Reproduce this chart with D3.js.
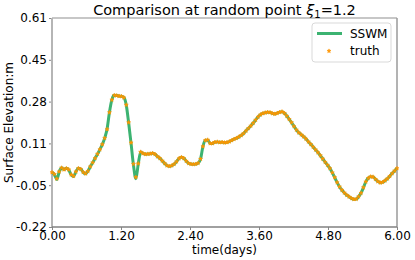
<!DOCTYPE html>
<html>
<head>
<meta charset="utf-8">
<script src="https://cdn.jsdelivr.net/npm/d3@7"></script>
<style>
  body { margin: 0; background: #fff; }
  svg { font-family: "DejaVu Sans", sans-serif; }
</style>
</head>
<body>
<div id="chart"></div>
<script>
// time axis in days (one sample per hour)
var days = d3.range(0, 145).map(function (k) { return k / 24; });

// truth (orange stars)
var truth = [
  -0.003, -0.010, -0.028, 0.000, 0.015, 0.008, 0.013, 0.008, -0.012, -0.018,
  0.000, 0.013, 0.010, -0.002, -0.008, 0.002, 0.020, 0.036, 0.053, 0.070,
  0.088, 0.108, 0.133, 0.168, 0.235, 0.285, 0.303, 0.302, 0.300, 0.299,
  0.294, 0.265, 0.195, 0.115, 0.030, -0.022, 0.032, 0.078, 0.072, 0.069,
  0.070, 0.071, 0.073, 0.069, 0.060, 0.053, 0.043, 0.033, 0.024, 0.021,
  0.024, 0.030, 0.040, 0.052, 0.057, 0.053, 0.042, 0.033, 0.030, 0.029,
  0.030, 0.034, 0.050, 0.100, 0.124, 0.126, 0.112, 0.112, 0.117, 0.118,
  0.116, 0.117, 0.115, 0.116, 0.119, 0.124, 0.129, 0.133, 0.138, 0.144,
  0.152, 0.162, 0.172, 0.182, 0.193, 0.205, 0.217, 0.226, 0.231, 0.234,
  0.236, 0.235, 0.231, 0.229, 0.232, 0.236, 0.238, 0.232, 0.221, 0.208,
  0.195, 0.180, 0.166, 0.155, 0.147, 0.139, 0.130, 0.119, 0.109, 0.098,
  0.087, 0.076, 0.064, 0.051, 0.038, 0.026, 0.013, -0.004, -0.023, -0.043,
  -0.060, -0.073, -0.084, -0.093, -0.100, -0.106, -0.110, -0.109, -0.099, -0.085,
  -0.063, -0.040, -0.026, -0.020, -0.021, -0.030, -0.039, -0.044, -0.042, -0.036,
  -0.028, -0.018, -0.007, 0.003, 0.013
];

// SSWM model (green line)
var sswm = [
  -0.003, -0.012, -0.031, -0.001, 0.015, 0.008, 0.013, 0.007, -0.013, -0.019,
  0.000, 0.013, 0.010, -0.003, -0.009, 0.002, 0.020, 0.036, 0.053, 0.070,
  0.088, 0.108, 0.133, 0.170, 0.237, 0.286, 0.303, 0.302, 0.300, 0.299,
  0.294, 0.264, 0.193, 0.112, 0.026, -0.028, 0.030, 0.078, 0.072, 0.069,
  0.070, 0.071, 0.073, 0.069, 0.060, 0.053, 0.043, 0.033, 0.024, 0.021,
  0.024, 0.030, 0.040, 0.052, 0.057, 0.053, 0.042, 0.033, 0.030, 0.029,
  0.030, 0.034, 0.050, 0.100, 0.124, 0.126, 0.112, 0.112, 0.117, 0.118,
  0.116, 0.117, 0.115, 0.116, 0.119, 0.124, 0.129, 0.133, 0.138, 0.144,
  0.152, 0.162, 0.172, 0.182, 0.193, 0.205, 0.217, 0.226, 0.231, 0.234,
  0.236, 0.235, 0.231, 0.229, 0.232, 0.236, 0.238, 0.232, 0.221, 0.208,
  0.195, 0.180, 0.166, 0.155, 0.147, 0.139, 0.130, 0.119, 0.109, 0.098,
  0.087, 0.076, 0.064, 0.051, 0.038, 0.026, 0.013, -0.004, -0.023, -0.043,
  -0.060, -0.073, -0.084, -0.093, -0.100, -0.106, -0.110, -0.109, -0.099, -0.085,
  -0.063, -0.040, -0.026, -0.020, -0.021, -0.030, -0.039, -0.044, -0.042, -0.036,
  -0.028, -0.018, -0.007, 0.003, 0.013
];

var xTicks = [0, 1.2, 2.4, 3.6, 4.8, 6.0];
var yTicks = [-0.22, -0.054, 0.112, 0.278, 0.444, 0.61];
var yTickLabels = ["-0.22", "-0.05", "0.11", "0.28", "0.45", "0.61"];

var margin = { top: 18, right: 18, bottom: 33, left: 52 },
    width = 415 - margin.left - margin.right,
    height = 260 - margin.top - margin.bottom;

var svg = d3.select("#chart")
    .append("svg")
    .attr("width", 415)
    .attr("height", 260);

var g = svg.append("g")
    .attr("transform", "translate(" + margin.left + "," + margin.top + ")");

var x = d3.scaleLinear().domain([0, 6]).range([0, width]);
var y = d3.scaleLinear().domain([-0.22, 0.61]).range([height, 0]);

// axes
var xAxis = g.append("g")
    .attr("transform", "translate(0," + height + ")")
    .call(d3.axisBottom(x).tickValues(xTicks).tickFormat(d3.format(".2f")).tickSize(3).tickPadding(1));
var yAxis = g.append("g")
    .call(d3.axisLeft(y).tickValues(yTicks).tickFormat(function (d, i) { return yTickLabels[i]; }).tickSize(3).tickPadding(2));

[xAxis, yAxis].forEach(function (a) {
    a.select(".domain").remove();
    a.selectAll(".tick line").attr("stroke", "#888");
    a.selectAll("text").attr("font-size", 12).attr("fill", "#000").attr("font-family", "DejaVu Sans");
});

// spines
g.append("line").attr("x1", 0).attr("x2", 0).attr("y1", 0).attr("y2", height)
    .attr("stroke", "#b5b5b5").attr("stroke-width", 2);
g.append("line").attr("x1", 0).attr("x2", width).attr("y1", 0).attr("y2", 0)
    .attr("stroke", "#b5b5b5").attr("stroke-width", 1.5);
g.append("line").attr("x1", width).attr("x2", width).attr("y1", 0).attr("y2", height)
    .attr("stroke", "#9a9a9a").attr("stroke-width", 1.5);
g.append("line").attr("x1", 0).attr("x2", width).attr("y1", height).attr("y2", height)
    .attr("stroke", "#808080").attr("stroke-width", 1.5);

// SSWM line
var line = d3.line()
    .x(function (d, i) { return x(days[i]); })
    .y(function (d) { return y(d); })
    .curve(d3.curveMonotoneX);

g.append("path")
    .datum(sswm)
    .attr("fill", "none")
    .attr("stroke", "#3cb371")
    .attr("stroke-width", 3)
    .attr("d", line);

// truth stars
var star = d3.symbol().type(d3.symbolStar).size(5);
g.append("g")
    .selectAll("path")
    .data(truth)
    .enter()
    .append("path")
    .attr("d", star)
    .attr("transform", function (d, i) { return "translate(" + x(days[i]) + "," + y(d) + ")"; })
    .attr("fill", "#ff9500")
    .attr("stroke", "#ff9500")
    .attr("stroke-width", 0.6);

// title
var title = svg.append("text")
    .attr("x", margin.left + width / 2)
    .attr("y", 15)
    .attr("text-anchor", "middle")
    .attr("font-size", 14.5);
title.append("tspan").text("Comparison at random point ");
title.append("tspan").attr("font-style", "italic").text("ξ");
title.append("tspan").attr("font-size", 10).attr("dy", 3).text("1");
title.append("tspan").attr("dy", -3).text("=1.2");

// axis labels
svg.append("text")
    .attr("x", margin.left + width / 2)
    .attr("y", 254)
    .attr("text-anchor", "middle")
    .attr("font-size", 12)
    .text("time(days)");

svg.append("text")
    .attr("transform", "translate(13," + (margin.top + height / 2) + ") rotate(-90)")
    .attr("text-anchor", "middle")
    .attr("font-size", 12)
    .text("Surface Elevation:m");

// legend
var lg = svg.append("g").attr("transform", "translate(312,23)");
lg.append("rect")
    .attr("width", 79).attr("height", 39).attr("rx", 3)
    .attr("fill", "#fff").attr("fill-opacity", 0.8)
    .attr("stroke", "#d9d9d9");
lg.append("line").attr("x1", 5).attr("x2", 30).attr("y1", 10.5).attr("y2", 10.5)
    .attr("stroke", "#3cb371").attr("stroke-width", 3);
lg.append("text").attr("x", 38).attr("y", 15).attr("font-size", 12).text("SSWM");
lg.append("path").attr("d", star).attr("transform", "translate(17,28)")
    .attr("fill", "#ff9500").attr("stroke", "#ff9500").attr("stroke-width", 0.6);
lg.append("text").attr("x", 38).attr("y", 32).attr("font-size", 12).text("truth");
</script>
</body>
</html>
